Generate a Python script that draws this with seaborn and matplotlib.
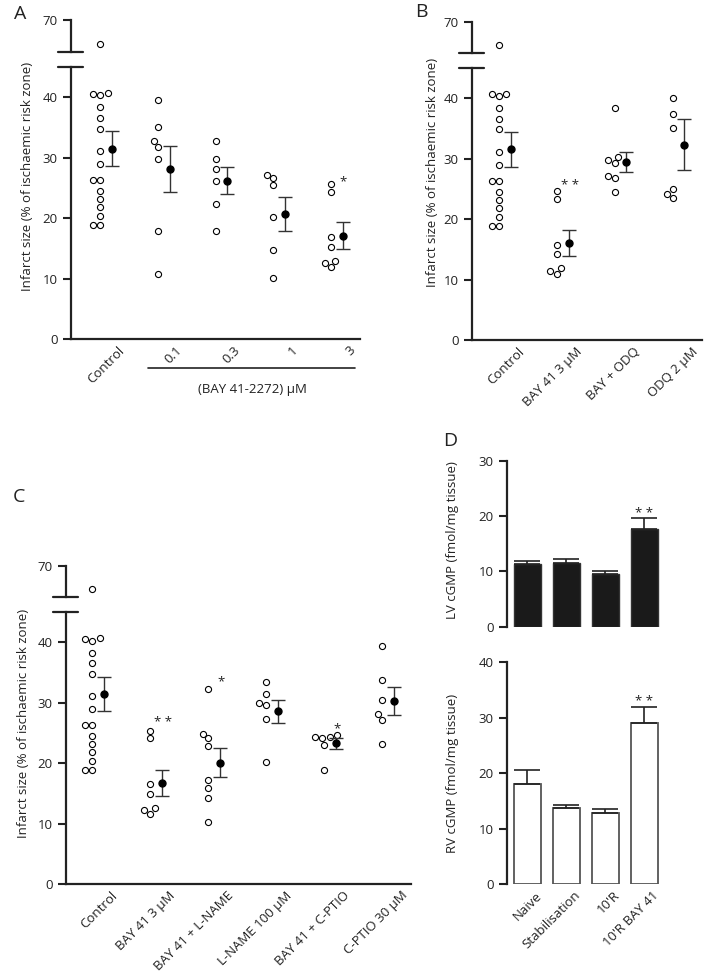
import numpy as np
import pandas as pd
import matplotlib.pyplot as plt
import matplotlib.transforms as mtransforms
import seaborn as sns
plt.switch_backend('Agg')

# individual infarct sizes (% of ischaemic risk zone)
control = [62.5, 40.7, 40.3, 40.6, 38.3, 36.6, 34.8, 31.1, 28.9, 26.3, 26.3,
           24.5, 23.1, 21.8, 20.4, 18.9, 18.8]
bay_01 = [39.5, 35.0, 32.7, 31.7, 29.8, 17.9, 10.7]
bay_03 = [32.7, 29.8, 28.2, 26.2, 22.4, 17.8]
bay_1 = [27.2, 26.7, 25.5, 20.2, 14.7, 10.1]
bay_3 = [25.7, 24.3, 16.8, 15.2, 12.9, 12.5, 11.9]

b_bay3 = [24.6, 23.3, 15.8, 14.2, 11.9, 11.5, 10.9]
b_bay_odq = [38.4, 30.3, 29.8, 29.2, 27.1, 26.7, 24.4]
b_odq = [40.0, 37.3, 35.0, 25.0, 24.2, 23.4]

c_bay3 = [25.3, 24.1, 16.5, 14.9, 12.6, 12.25, 11.6]
c_bay_lname = [32.3, 24.9, 24.1, 22.8, 17.2, 15.9, 14.3, 10.2]
c_lname = [33.5, 31.4, 29.9, 29.7, 27.3, 20.2]
c_bay_cptio = [24.6, 24.4, 24.3, 24.2, 23.05, 18.8]
c_cptio = [39.4, 33.7, 30.4, 28.1, 27.15, 23.2]

# group labels, means and SEM
a_labels = ["Control", "0.1", "0.3", "1", "3"]
a_means = [31.5, 28.1, 26.2, 20.7, 17.1]
a_sems = [2.85, 3.85, 2.2, 2.85, 2.2]

b_labels = ["Control", "BAY 41 3 µM", "BAY + ODQ", "ODQ 2 µM"]
b_means = [31.5, 16.1, 29.4, 32.3]
b_sems = [2.85, 2.15, 1.65, 4.2]

c_labels = ["Control", "BAY 41 3 µM", "BAY 41 + L-NAME", "L-NAME 100 µM",
            "BAY 41 + C-PTIO", "C-PTIO 30 µM"]
c_means = [31.5, 16.8, 20.1, 28.6, 23.3, 30.3]
c_sems = [2.85, 2.15, 2.45, 1.9, 0.9, 2.3]

# panel D: cGMP content
d_labels = ["Naive", "Stabilisation", "10'R", "10'R BAY 41"]
lv_cgmp = [11.3, 11.6, 9.5, 17.7]
lv_err = [0.5, 0.7, 0.5, 1.9]
rv_cgmp = [18.05, 13.8, 12.8, 29.0]
rv_err = [2.45, 0.4, 0.7, 2.9]

W, H = 706, 977
INK = '#222222'
FS = 9.5

sns.set_theme(style='ticks')
plt.rcParams['font.family'] = ['Open Sans', 'DejaVu Sans']
plt.rcParams['text.color'] = INK
plt.rcParams['xtick.color'] = INK
plt.rcParams['ytick.color'] = INK

fig = plt.figure(figsize=(W / 100, H / 100), dpi=100)


def px_axes(l, t, r, b):
    return fig.add_axes([l / W, 1 - b / H, (r - l) / W, (b - t) / H])


def base_style(ax):
    for s in ax.spines.values():
        s.set_color(INK)
        s.set_linewidth(1.6)
    ax.spines['top'].set_visible(False)
    ax.spines['right'].set_visible(False)
    ax.tick_params(axis='y', length=5.5, width=1.5, pad=4, labelsize=FS)
    ax.tick_params(axis='x', length=0, labelsize=FS)
    ax.set_xlabel('')
    ax.set_ylabel('')
    ax.set_facecolor('none')


def dot_panel(values, labels, means, sems, low_box, up_box, xlim, stars, lab_shift):
    rows = []
    for i, vals in enumerate(values):
        for v in vals:
            rows.append((i - 0.1, v))
    df = pd.DataFrame(rows, columns=['pos', 'infarct'])

    ax_up = px_axes(*up_box)
    ax = px_axes(*low_box)
    for a in (ax, ax_up):
        sns.swarmplot(data=df, x='pos', y='infarct', native_scale=True, orient='x',
                      ax=a, color='white', edgecolor='black', linewidth=0.8, size=4.4)
        a.set_xlim(xlim)
        base_style(a)

    ax.errorbar(np.arange(len(means)) + 0.1, means, yerr=sems, fmt='o', color='black',
                ms=5, ecolor='#333333', elinewidth=1, capsize=5.3, capthick=1, zorder=5)
    ax.set_ylim(0, 45)
    ax.set_yticks([0, 10, 20, 30, 40])
    ax.set_xticks(np.arange(len(labels)) + lab_shift)
    ax.set_xticklabels(labels, rotation=45, ha='right', rotation_mode='anchor')

    ax_up.set_ylim(60, 70)
    ax_up.set_yticks([70])
    ax_up.set_xticks([])
    ax_up.spines['bottom'].set_visible(False)

    # axis break marks
    wpx = (low_box[2] - low_box[0])
    dl, dr = 13 / wpx, 12 / wpx
    ax.plot([-dl, dr], [1, 1], transform=ax.transAxes, color=INK, lw=1.6, clip_on=False)
    ax_up.plot([-dl, dr], [0, 0], transform=ax_up.transAxes, color=INK, lw=1.6, clip_on=False)

    for (xi, yi, s) in stars:
        ax.text(xi, yi, s, ha='center', va='center', fontsize=FS)
    return ax, ax_up


# ---------------- A ----------------
axA, _ = dot_panel([control, bay_01, bay_03, bay_1, bay_3], a_labels, a_means, a_sems,
                   (71, 67, 360, 339), (71, 20, 360, 52), (-0.61, 4.40),
                   [(4.1, 26.0, '*')], 0.2)
trA = mtransforms.blended_transform_factory(axA.transData, axA.transAxes)
axA.plot([0.73, 4.32], [-0.108, -0.108], transform=trA, color=INK, lw=1.2, clip_on=False)
axA.text(2.53, -0.184, "(BAY 41-2272) µM", transform=trA, ha='center', va='center', fontsize=FS)

# ---------------- B ----------------
dot_panel([control, b_bay3, b_bay_odq, b_odq], b_labels, b_means, b_sems,
          (472, 67.6, 702, 340.3), (472, 21.7, 702, 53.3), (-0.57, 3.41),
          [(1.12, 25.6, '* *')], 0.22)

# ---------------- C ----------------
dot_panel([control, c_bay3, c_bay_lname, c_lname, c_bay_cptio, c_cptio], c_labels,
          c_means, c_sems, (65.7, 612.2, 410.7, 884), (65.7, 565.7, 410.7, 597.3),
          (-0.56, 5.39),
          [(1.12, 26.7, '* *'), (2.12, 33.5, '*'), (4.12, 25.7, '*')], 0.22)

# ---------------- D ----------------
axLV = px_axes(507, 460.7, 660, 626.7)
axRV = px_axes(507, 662.3, 660, 884)

sns.barplot(x=d_labels, y=lv_cgmp, ax=axLV, color='#1a1a1a', edgecolor='#333333',
            linewidth=1, width=0.7, saturation=1, errorbar=None)
axLV.errorbar(np.arange(4), lv_cgmp, yerr=[np.zeros(4), lv_err], fmt='none',
              ecolor=INK, elinewidth=1.2, capsize=9.7, capthick=1.2, zorder=5)
sns.barplot(x=d_labels, y=rv_cgmp, ax=axRV, color='white', edgecolor='#555555',
            linewidth=1.3, width=0.7, saturation=1, errorbar=None)
axRV.errorbar(np.arange(4), rv_cgmp, yerr=[np.zeros(4), rv_err], fmt='none',
              ecolor=INK, elinewidth=1.2, capsize=9.7, capthick=1.2, zorder=5)

for a, top in ((axLV, 30), (axRV, 40)):
    base_style(a)
    a.spines['bottom'].set_visible(False)
    a.set_xlim(-0.52, 3.4)
    a.set_ylim(0, top)
    a.set_yticks(np.arange(0, top + 1, 10))

axLV.set_xticks([])
axRV.set_xticks(np.arange(4) + 0.2)
axRV.set_xticklabels(d_labels, rotation=45, ha='right', rotation_mode='anchor')
axLV.text(3, 20.4, '* *', ha='center', va='center', fontsize=FS)
axRV.text(3, 32.9, '* *', ha='center', va='center', fontsize=FS)

# y labels
ylab = "Infarct size (% of ischaemic risk zone)"
fig.text(28 / W, 1 - 176 / H, ylab, rotation=90, ha='center', va='center', fontsize=FS)
fig.text(432 / W, 1 - 172 / H, ylab, rotation=90, ha='center', va='center', fontsize=FS)
fig.text(24 / W, 1 - 723 / H, ylab, rotation=90, ha='center', va='center', fontsize=FS)
fig.text(453 / W, 1 - 540 / H, "LV cGMP (fmol/mg tissue)", rotation=90,
         ha='center', va='center', fontsize=FS)
fig.text(453 / W, 1 - 773 / H, "RV cGMP (fmol/mg tissue)", rotation=90,
         ha='center', va='center', fontsize=FS)

# panel letters
for lx, ly, s in ((20, 14, 'A'), (421, 12, 'B'), (19, 497, 'C'), (450, 441, 'D')):
    fig.text(lx / W, 1 - ly / H, s, ha='center', va='center', fontsize=14)

fig.savefig("out.png", dpi=100)
